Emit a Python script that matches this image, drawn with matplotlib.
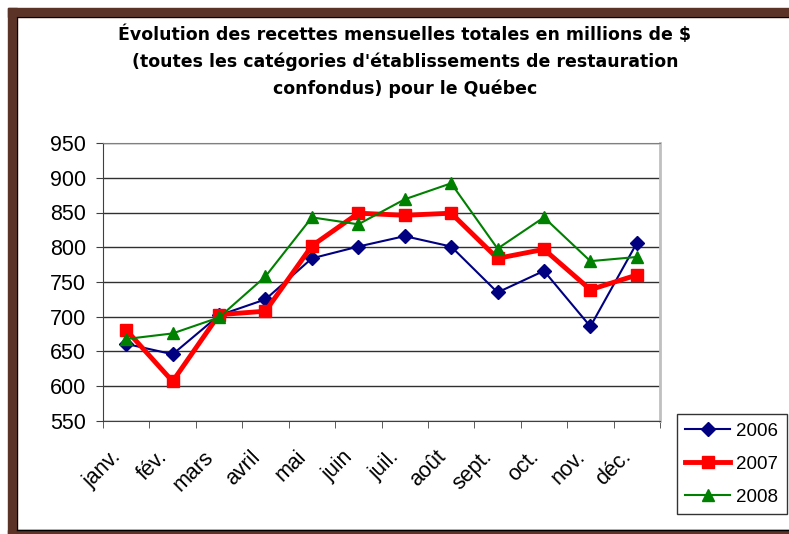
import numpy as np
import matplotlib.pyplot as plt
import matplotlib.transforms as mtransforms
from matplotlib.patches import Rectangle

plt.rcParams['font.family'] = ['Liberation Sans', 'DejaVu Sans']

mois = ['janv.', 'fév.', 'mars', 'avril', 'mai', 'juin', 'juil.', 'août',
        'sept.', 'oct.', 'nov.', 'déc.']
v2006 = [661, 646, 702, 725, 784, 801, 816, 801, 735, 766, 686, 806]
v2007 = [681, 607, 703, 708, 802, 849, 846, 849, 784, 797, 739, 760]
v2008 = [668, 676, 699, 758, 843, 833, 869, 892, 798, 843, 780, 786]
yticks = [550, 600, 650, 700, 750, 800, 850, 900, 950]

titre = ("Évolution des recettes mensuelles totales en millions de $\n"
         "(toutes les catégories d'établissements de restauration\n"
         "confondus) pour le Québec")

fig = plt.figure(figsize=(7.89, 5.34), dpi=100)
W, H = 789, 534

# cadre brun
brun = '#5c3427'
fig.patches.append(Rectangle((8 / W, 1 - 17 / H), 1 - 8 / W, 9 / H,
                             transform=fig.transFigure, color=brun))
fig.patches.append(Rectangle((8 / W, 0), 9 / W, 1 - 8 / H,
                             transform=fig.transFigure, color=brun))
fig.patches.append(Rectangle((8 / W, 0), 1 - 8 / W, 4 / H,
                             transform=fig.transFigure, color=brun))
fig.add_artist(plt.Line2D([17 / W, 1], [4 / H, 4 / H], color='black',
                          lw=1, transform=fig.transFigure))
fig.add_artist(plt.Line2D([17 / W, 1], [1 - 17 / H, 1 - 17 / H], color='black',
                          lw=0.8, transform=fig.transFigure))
fig.add_artist(plt.Line2D([17 / W, 17 / W], [4 / H, 1 - 17 / H], color='black',
                          lw=0.8, transform=fig.transFigure))

ax = fig.add_axes([103 / W, 1 - 421 / H, 557 / W, 278 / H])
x = np.arange(len(mois))

ax.plot(x, v2006, color='#000080', lw=1.5, marker='D', ms=7, label='2006', zorder=3)
ax.plot(x, v2007, color='#ff0000', lw=3.5, marker='s', ms=8, label='2007', zorder=4)
ax.plot(x, v2008, color='#008000', lw=1.5, marker='^', ms=9, label='2008', zorder=5)

ax.set_xlim(-0.5, 11.5)
ax.set_ylim(550, 950)
ax.set_yticks(yticks)
ax.set_yticklabels([str(v) for v in yticks], fontsize=15.5)
ax.yaxis.grid(True, color='#303030', lw=1)
ax.set_axisbelow(True)

ax.set_xticks(x)
ax.set_xticklabels(mois, fontsize=15.5, rotation=45, ha='right',
                   rotation_mode='anchor')
ax.set_xticks(np.arange(-0.5, 12, 1), minor=True)
ax.tick_params(axis='x', which='major', length=0, pad=14)
ax.tick_params(axis='x', which='minor', length=5, color='#404040')
ax.tick_params(axis='y', length=5, color='#404040', pad=7)

# décalage des étiquettes comme dans Excel
decal = mtransforms.ScaledTranslation(-16 / 100, -6 / 100, fig.dpi_scale_trans)
for lab in ax.get_xticklabels():
    lab.set_transform(lab.get_transform() + decal)

for s in ['left', 'bottom']:
    ax.spines[s].set_color('#404040')
ax.spines['top'].set_color('#808080')
ax.spines['right'].set_color('#c0c0c0')
ax.spines['right'].set_linewidth(2)

fig.text(405 / W, 1 - 25 / H, titre, ha='center', va='top', fontsize=12.5,
         fontweight='bold', linespacing=1.6, family='DejaVu Sans')

leg = fig.legend(loc='lower left', bbox_to_anchor=(677 / W, 1 - 514 / H),
                 fontsize=13.5, frameon=True, fancybox=False,
                 edgecolor='black', handlelength=2.4, borderpad=0.45,
                 labelspacing=0.84, handletextpad=0.3, borderaxespad=0)
leg.get_frame().set_linewidth(1)

fig.savefig('out.png', dpi=100)
